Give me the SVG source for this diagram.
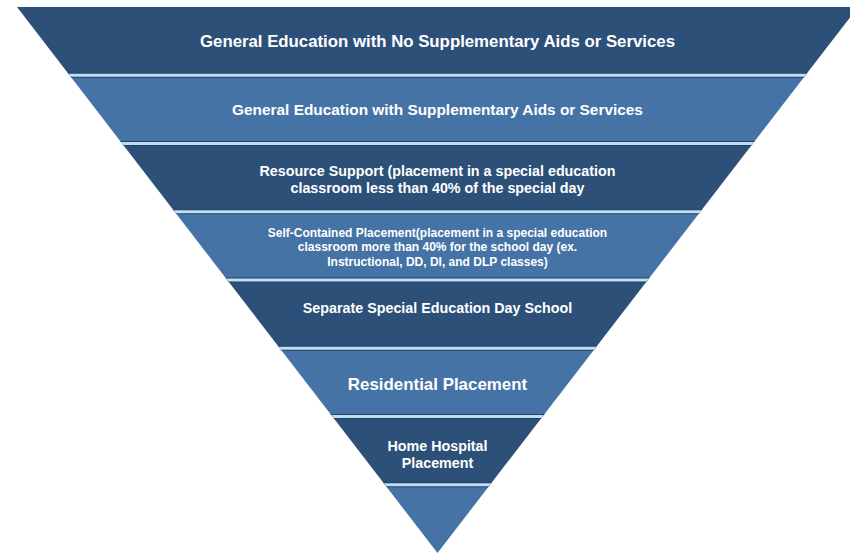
<svg xmlns="http://www.w3.org/2000/svg" width="850" height="555" viewBox="0 0 850 555">
  <defs>
    <style>
      .dark { fill: #2d5079; }
      .light { fill: #4673a6; }
      .lbl { fill: #ffffff; font-family: "Liberation Sans", Arial, sans-serif; font-weight: bold; text-anchor: middle; }
      .rule { stroke: #bfe0f2; stroke-width: 3; }
      .rule-edge { stroke: #22406a; stroke-width: 5; }
    </style>
    <clipPath id="funnel">
      <polygon points="17,7 858,7 437.5,553"/>
    </clipPath>
  </defs>

  <rect width="850" height="555" fill="#ffffff"/>

  <!-- Level 1 -->
  <g id="level-general-no-aids">
    <polygon class="dark" points="17,7 858,7 805.44,75.25 69.56,75.25"/>
    <text class="lbl" x="437.5" y="46.5" font-size="16.8">General Education with No Supplementary Aids or Services</text>
  </g>

  <!-- Level 2 -->
  <g id="level-general-with-aids">
    <polygon class="light" points="69.56,75.25 805.44,75.25 752.88,143.5 122.12,143.5"/>
    <text class="lbl" x="437.5" y="115" font-size="15.4">General Education with Supplementary Aids or Services</text>
  </g>

  <!-- Level 3 -->
  <g id="level-resource-support">
    <polygon class="dark" points="122.12,143.5 752.88,143.5 700.31,211.75 174.69,211.75"/>
    <text class="lbl" x="437.5" y="176" font-size="14.3">Resource Support (placement in a special education</text>
    <text class="lbl" x="437.5" y="193" font-size="14.3">classroom less than 40% of the special day</text>
  </g>

  <!-- Level 4 -->
  <g id="level-self-contained">
    <polygon class="light" points="174.69,211.75 700.31,211.75 647.75,280 227.25,280"/>
    <text class="lbl" x="437.5" y="236.5" font-size="12">Self-Contained Placement(placement in a special education</text>
    <text class="lbl" x="437.5" y="251" font-size="12">classroom more than 40% for the school day (ex.</text>
    <text class="lbl" x="437.5" y="265.5" font-size="12">Instructional, DD, DI, and DLP classes)</text>
  </g>

  <!-- Level 5 -->
  <g id="level-day-school">
    <polygon class="dark" points="227.25,280 647.75,280 595.19,348.25 279.81,348.25"/>
    <text class="lbl" x="437.5" y="313" font-size="14.3">Separate Special Education Day School</text>
  </g>

  <!-- Level 6 -->
  <g id="level-residential">
    <polygon class="light" points="279.81,348.25 595.19,348.25 542.63,416.5 332.37,416.5"/>
    <text class="lbl" x="437.5" y="390" font-size="16.9">Residential Placement</text>
  </g>

  <!-- Level 7 -->
  <g id="level-home-hospital">
    <polygon class="dark" points="332.37,416.5 542.63,416.5 490.06,484.75 384.94,484.75"/>
    <text class="lbl" x="437.5" y="451" font-size="14.3">Home Hospital</text>
    <text class="lbl" x="437.5" y="468" font-size="14.3">Placement</text>
  </g>

  <!-- Level 8 (tip) -->
  <g id="level-tip">
    <polygon class="light" points="384.94,484.75 490.06,484.75 437.5,553"/>
  </g>

  <!-- dividers between levels -->
  <g id="dividers" clip-path="url(#funnel)">
    <g class="rule-edge">
      <line x1="0" y1="75.25" x2="850" y2="75.25"/>
      <line x1="0" y1="143.5" x2="850" y2="143.5"/>
      <line x1="0" y1="211.75" x2="850" y2="211.75"/>
      <line x1="0" y1="280" x2="850" y2="280"/>
      <line x1="0" y1="348.25" x2="850" y2="348.25"/>
      <line x1="0" y1="416.5" x2="850" y2="416.5"/>
      <line x1="0" y1="484.75" x2="850" y2="484.75"/>
    </g>
    <g class="rule">
      <line x1="0" y1="75.25" x2="850" y2="75.25"/>
      <line x1="0" y1="143.5" x2="850" y2="143.5"/>
      <line x1="0" y1="211.75" x2="850" y2="211.75"/>
      <line x1="0" y1="280" x2="850" y2="280"/>
      <line x1="0" y1="348.25" x2="850" y2="348.25"/>
      <line x1="0" y1="416.5" x2="850" y2="416.5"/>
      <line x1="0" y1="484.75" x2="850" y2="484.75"/>
    </g>
  </g>
</svg>
